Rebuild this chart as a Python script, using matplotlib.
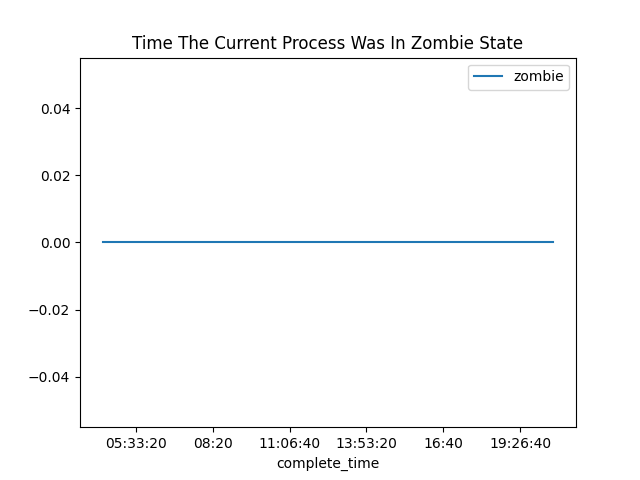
import matplotlib
matplotlib.use('Agg')
from matplotlib import pyplot as plt
from matplotlib.ticker import FuncFormatter, MultipleLocator

# complete_time in seconds since midnight, zombie time values
complete_time = [15714, 30000, 45000, 60000, 74286]
zombie = [0, 0, 0, 0, 0]


def time_fmt(x, pos=None):
    s = int(round(x))
    h, rem = divmod(s, 3600)
    m, sec = divmod(rem, 60)
    if sec:
        return '%02d:%02d:%02d' % (h, m, sec)
    return '%02d:%02d' % (h, m)


fig, ax = plt.subplots(figsize=(6.4, 4.8), dpi=100)
ax.plot(complete_time, zombie, label='zombie')
ax.xaxis.set_major_locator(MultipleLocator(10000))
ax.xaxis.set_major_formatter(FuncFormatter(time_fmt))
ax.set_ylim(-0.055, 0.055)
ax.set_xlabel('complete_time')
ax.set_title('Time The Current Process Was In Zombie State')
ax.legend(loc='upper right')
fig.savefig('out.png')
